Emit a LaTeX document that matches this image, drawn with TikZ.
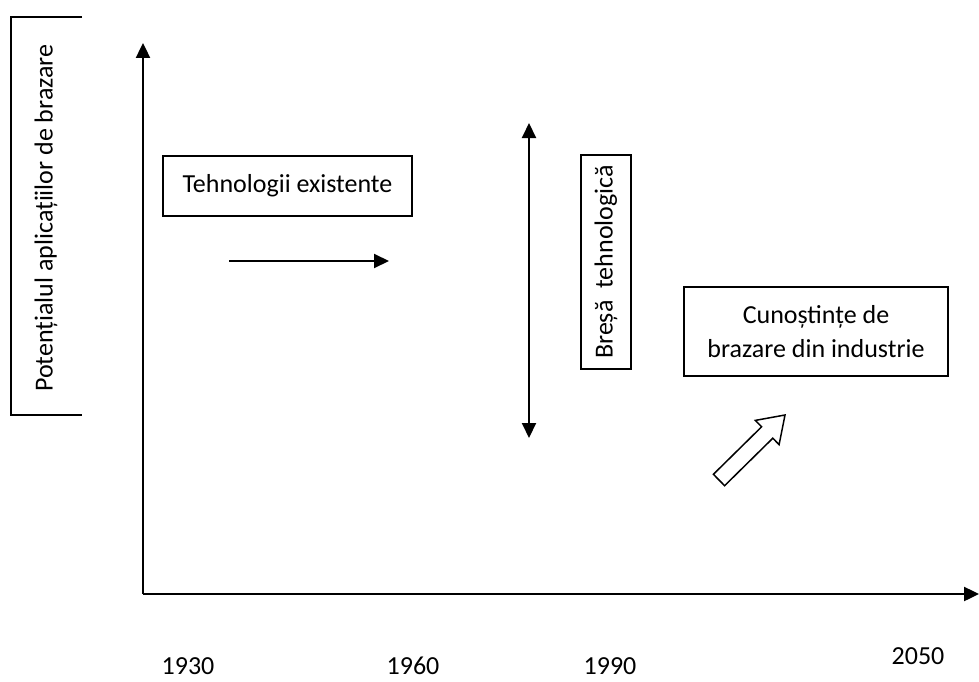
\documentclass[tikz,border=0pt]{standalone}
\usepackage{fontspec}
\setmainfont{Carlito}
\usetikzlibrary{arrows.meta}
\begin{document}
\begin{tikzpicture}[x=1pt,y=-1pt,
  txt/.style={inner sep=0pt,font=\fontsize{26}{34}\selectfont},
  box/.style={draw,line width=1.6pt,inner sep=0pt,font=\fontsize{26}{34}\selectfont},
  arr/.style={line width=2pt,-{Triangle[length=15pt,width=14pt]}},
  darr/.style={line width=2pt,{Triangle[length=15pt,width=14pt]}-{Triangle[length=15pt,width=14pt]}},
  axis/.style={line width=2.4pt,-{Triangle[length=15pt,width=14pt]}},
  hollow/.style={draw,line width=1.5pt,line join=miter,fill=white}]
\useasboundingbox (0,0) rectangle (979,682);
% left label box (open on the right)
\draw[line width=1.6pt] (82,17) -- (11,17) -- (11,415) -- (82,415);
\node[txt,rotate=90] (ylabel) at (46,218) {Potențialul aplicațiilor de brazare};
% axes
\coordinate (origin) at (143,594);
\coordinate (ytop) at (143,43);
\coordinate (xend) at (979,594);
\draw[axis] (origin) -- (ytop);
\draw[axis] (origin) -- (xend);
% boxes
\node[box,minimum width=249pt,minimum height=60pt] (tech) at (287.5,186) {Tehnologii existente};
\node[box,rotate=90,minimum width=214pt,minimum height=50pt] (gap) at (606,262) {Breșă\ \ tehnologică};
\node[box,align=center,minimum width=264pt,minimum height=89pt] (know) at (816,331.5) {Cunoștințe de\\brazare din industrie};
% arrows
\coordinate (a1) at (229,261);
\coordinate (a2) at (389,261);
\draw[arr] (a1) -- (a2);
\coordinate (d1) at (529,123);
\coordinate (d2) at (529,438);
\draw[darr] (d1) -- (d2);
% hollow block arrow
\draw[hollow] (713.4,474.3) -- (761.6,426.8) -- (755.3,420.4) -- (785,415)
  -- (779.1,444.6) -- (772.8,438.2) -- (724.6,485.7) -- cycle;
% year labels
\node[txt] (y1930) at (188,666) {1930};
\node[txt] (y1960) at (413,666) {1960};
\node[txt] (y1990) at (610,666) {1990};
\node[txt] (y2050) at (918,656) {2050};
\end{tikzpicture}
\end{document}
